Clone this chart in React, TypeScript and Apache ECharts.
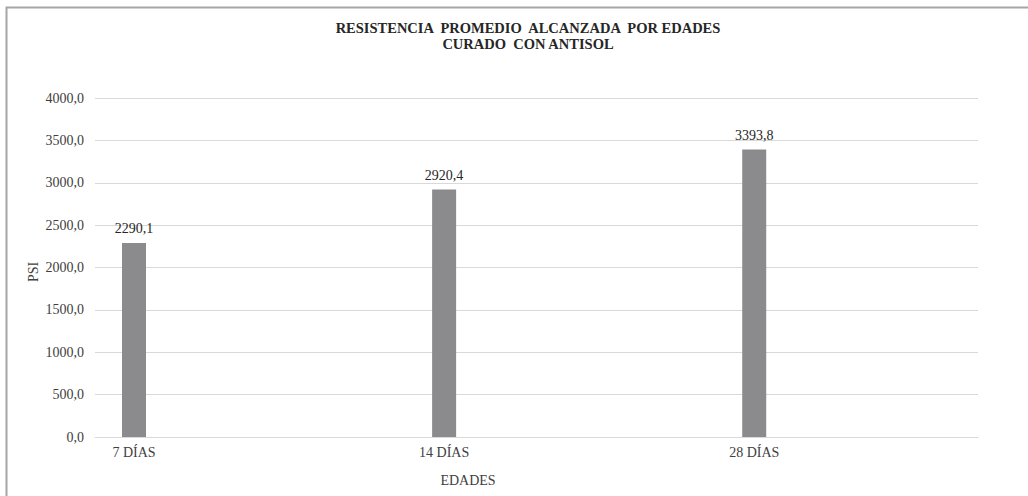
import React, { useEffect, useRef } from "react";
import * as echarts from "echarts";

const titleLines = ["RESISTENCIA  PROMEDIO  ALCANZADA  POR EDADES", "CURADO  CON ANTISOL"];
const categories = ["7 DÍAS", "14 DÍAS", "28 DÍAS"];
const values = [2290.1, 2920.4, 3393.8];
const yTicks = { min: 0, max: 4000, interval: 500 };
const yAxisName = "PSI";
const xAxisName = "EDADES";

const FONT = "Liberation Serif";
const fmt = (v: number) => v.toFixed(1).replace(".", ",");

export default function App() {
  const ref = useRef<HTMLDivElement>(null);
  useEffect(() => {
    if (!ref.current) return;
    const chart = echarts.init(ref.current, null, { renderer: "svg" });
    chart.setOption({
      animation: false,
      backgroundColor: "#ffffff",
      title: {
        text: titleLines.join("\n"),
        left: 523,
        textAlign: "center",
        top: 15,
        textStyle: {
          fontFamily: FONT,
          fontSize: 14.5,
          fontWeight: "bold",
          color: "#262626",
          lineHeight: 16,
        },
      },
      grid: { left: 95, right: 50, top: 98, bottom: 59 },
      xAxis: {
        type: "value",
        min: -0.1258,
        max: 2.7216,
        splitLine: { show: false },
        axisLine: { show: true, lineStyle: { color: "#d9d9d9", width: 1 } },
        axisTick: { show: false },
        axisLabel: {
          customValues: [0, 1, 2],
          formatter: (v: number) => categories[Math.round(v)] ?? "",
          fontFamily: FONT,
          fontSize: 14,
          color: "#404040",
          margin: 8,
        },
      },
      yAxis: {
        type: "value",
        min: yTicks.min,
        max: yTicks.max,
        interval: yTicks.interval,
        axisLine: { show: false },
        axisTick: { show: false },
        splitLine: { lineStyle: { color: "#d9d9d9", width: 1 } },
        axisLabel: {
          formatter: (v: number) => fmt(v),
          fontFamily: FONT,
          fontSize: 14,
          color: "#404040",
          margin: 11,
        },
      },
      series: [
        {
          type: "bar",
          data: values.map((v, i) => [i, v]),
          barWidth: 24,
          itemStyle: { color: "#8b8b8e" },
          label: {
            show: true,
            position: "top",
            distance: 7,
            formatter: (p: any) => fmt(p.value[1]),
            fontFamily: FONT,
            fontSize: 14,
            color: "#262626",
          },
        },
      ],
      graphic: [
        {
          type: "polyline",
          shape: { points: [[6.5, 496], [6.5, 7.5], [1028, 7.5]] },
          style: { stroke: "#a6a6a6", lineWidth: 2, fill: null },
          silent: true,
        },
        {
          type: "text",
          x: 33,
          y: 272,
          rotation: Math.PI / 2,
          style: {
            text: yAxisName,
            fontFamily: FONT,
            fontSize: 14,
            fill: "#404040",
            align: "center",
            verticalAlign: "middle",
          },
        },
        {
          type: "text",
          x: 468,
          y: 480,
          style: {
            text: xAxisName,
            fontFamily: FONT,
            fontSize: 14,
            fill: "#404040",
            align: "center",
            verticalAlign: "middle",
          },
        },
      ],
    });
    return () => chart.dispose();
  }, []);
  return (
    <div
      ref={ref}
      style={{ position: "absolute", left: 0, top: 0, width: 1028, height: 496 }}
    />
  );
}
